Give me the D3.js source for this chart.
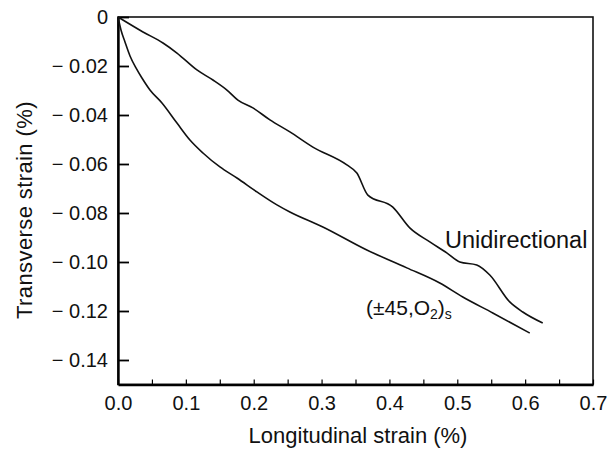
<!DOCTYPE html>
<html>
<head>
<meta charset="utf-8">
<script src="https://cdn.jsdelivr.net/npm/d3@7"></script>
<style>
  body { margin: 0; background: #fff; }
  text { font-family: "Liberation Sans", Arial, sans-serif; fill: #111; }
</style>
</head>
<body>
<svg id="chart" width="611" height="452"></svg>
<script>
// unidirectional curve (longitudinal %, transverse %)
var uniX = [0, 0.0368, 0.0663, 0.0869, 0.1163, 0.1399, 0.1605, 0.1767, 0.1988, 0.2239, 0.2533, 0.2872, 0.3373, 0.3520, 0.3682, 0.4050, 0.4300, 0.4595, 0.4845, 0.5037, 0.5287, 0.5479, 0.5773, 0.5965, 0.6259]
var uniY = [0, -0.0061, -0.0106, -0.0147, -0.0216, -0.0257, -0.0298, -0.0339, -0.0371, -0.0420, -0.0469, -0.0531, -0.0604, -0.0637, -0.0727, -0.0776, -0.0861, -0.0918, -0.0963, -0.1000, -0.1012, -0.1053, -0.1163, -0.1204, -0.1249]

// (+-45,O2)s curve
var angX = [0, 0.0044, 0.0103, 0.0177, 0.0265, 0.0353, 0.0471, 0.0648, 0.0869, 0.1060, 0.1252, 0.1502, 0.1753, 0.2047, 0.2342, 0.2533, 0.3019, 0.3667, 0.4256, 0.4742, 0.5081, 0.5523, 0.6068]
var angY = [0, -0.0053, -0.0102, -0.0159, -0.0208, -0.0249, -0.0298, -0.0351, -0.0433, -0.0502, -0.0555, -0.0612, -0.0657, -0.0714, -0.0767, -0.0796, -0.0857, -0.0951, -0.1024, -0.1086, -0.1143, -0.1208, -0.1290]

var xTicks = [0, 0.05, 0.1, 0.15, 0.2, 0.25, 0.3, 0.35, 0.4, 0.45, 0.5, 0.55, 0.6, 0.65, 0.7]
var yTicks = [0, -0.02, -0.04, -0.06, -0.08, -0.10, -0.12, -0.14]

var svg = d3.select("#chart")
var x = d3.scaleLinear().domain([0, 0.7]).range([118, 593])
var y = d3.scaleLinear().domain([-0.15, 0]).range([384.5, 17])

function fmtY(d) {
  if (d === 0) return "0"
  return "\u2212 " + Math.abs(d).toFixed(2)
}

// frame
svg.append("rect")
  .attr("x", x(0)).attr("y", y(0))
  .attr("width", x(0.7) - x(0)).attr("height", y(-0.15) - y(0))
  .attr("fill", "none").attr("stroke", "#111").attr("stroke-width", 1.6)

var gy = svg.append("g")
  .attr("transform", "translate(" + x(0) + ",0)")
  .call(d3.axisLeft(y).tickValues(yTicks).tickSize(-11).tickSizeOuter(0).tickPadding(10).tickFormat(fmtY))
gy.select(".domain").attr("stroke-width", 2.4)
gy.selectAll(".tick line").attr("stroke-width", 1.8)
gy.selectAll("text").style("font-size", "20px").attr("fill", "#111")

var gx = svg.append("g")
  .attr("transform", "translate(0," + y(-0.15) + ")")
  .call(d3.axisBottom(x).tickValues(xTicks).tickSize(-5).tickSizeOuter(0).tickPadding(11)
    .tickFormat(function(d, i) { return i % 2 == 0 ? d.toFixed(1) : "" }))
gx.select(".domain").attr("stroke-width", 2.4)
gx.selectAll(".tick line").attr("stroke-width", 1.2)
gx.selectAll("text").style("font-size", "20px").attr("fill", "#111")

var line = d3.line()
  .curve(d3.curveMonotoneX)
  .x(function(d) { return x(d[0]) })
  .y(function(d) { return y(d[1]) })

svg.append("path")
  .datum(d3.zip(uniX, uniY))
  .attr("d", line)
  .attr("fill", "none").attr("stroke", "#111").attr("stroke-width", 1.6)

svg.append("path")
  .datum(d3.zip(angX, angY))
  .attr("d", line)
  .attr("fill", "none").attr("stroke", "#111").attr("stroke-width", 1.6)

// curve labels
svg.append("text")
  .attr("x", 445).attr("y", 248)
  .style("font-size", "23.5px")
  .text("Unidirectional")

var lab = svg.append("text")
  .attr("x", 366).attr("y", 315)
  .style("font-size", "21px")
lab.append("tspan").text("(\u00b145,O")
lab.append("tspan").attr("dy", 4).style("font-size", "14px").text("2")
lab.append("tspan").attr("dy", -4).text(")")
lab.append("tspan").attr("dy", 4).style("font-size", "14px").text("s")

// axis titles
svg.append("text")
  .attr("x", 358).attr("y", 443)
  .attr("text-anchor", "middle")
  .style("font-size", "22px")
  .text("Longitudinal strain (%)")

svg.append("text")
  .attr("transform", "translate(32,210) rotate(-90)")
  .attr("text-anchor", "middle")
  .style("font-size", "22px")
  .style("letter-spacing", "0.4px")
  .text("Transverse strain (%)")
</script>
</body>
</html>
